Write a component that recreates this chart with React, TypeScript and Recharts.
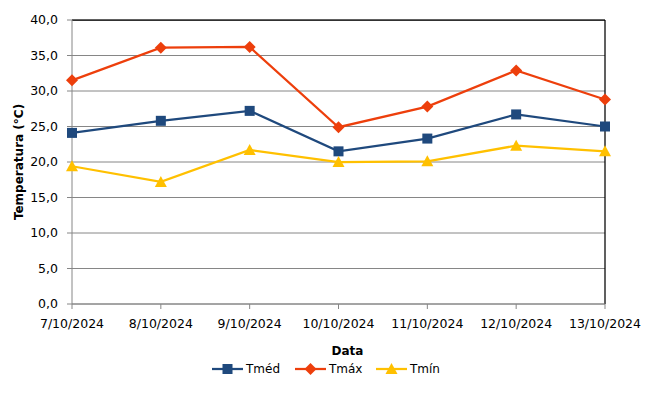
import { CartesianGrid, Legend, Line, LineChart, ReferenceLine, XAxis, YAxis } from 'recharts'

const dates = ['7/10/2024', '8/10/2024', '9/10/2024', '10/10/2024', '11/10/2024', '12/10/2024', '13/10/2024']
const tMed = [24.1, 25.8, 27.2, 21.5, 23.3, 26.7, 25.0]
const tMax = [31.5, 36.1, 36.2, 24.9, 27.8, 32.9, 28.8]
const tMin = [19.4, 17.2, 21.7, 20.0, 20.1, 22.3, 21.5]
const yTicks = [0, 5, 10, 15, 20, 25, 30, 35, 40]

const COLORS = { med: '#1F497D', max: '#ED3F0C', min: '#FFC000' }
const FONT = '"DejaVu Sans", Verdana, sans-serif'

const data = dates.map((d, i) => ({ date: d, med: tMed[i], max: tMax[i], min: tMin[i] }))

const fmt = (v: number) => v.toFixed(1).replace('.', ',')

function Square({ cx, cy, color }: any) {
  if (cx == null || cy == null) return null
  return <rect x={cx - 5} y={cy - 5} width={10} height={10} fill={color} />
}

function Diamond({ cx, cy, color }: any) {
  if (cx == null || cy == null) return null
  return <polygon points={`${cx},${cy - 6} ${cx + 6},${cy} ${cx},${cy + 6} ${cx - 6},${cy}`} fill={color} />
}

function Triangle({ cx, cy, color }: any) {
  if (cx == null || cy == null) return null
  return <polygon points={`${cx},${cy - 6} ${cx + 6},${cy + 5} ${cx - 6},${cy + 5}`} fill={color} />
}

const legendItems = [
  { name: 'Tméd', color: COLORS.med, Marker: Square, width: 83 },
  { name: 'Tmáx', color: COLORS.max, Marker: Diamond, width: 81 },
  { name: 'Tmín', color: COLORS.min, Marker: Triangle, width: 70 },
]

function LegendContent() {
  return (
    <div style={{ display: 'flex', alignItems: 'center', height: 20, paddingLeft: 212, fontFamily: FONT, fontSize: 12 }}>
      {legendItems.map(({ name, color, Marker, width }) => (
        <div key={name} style={{ display: 'flex', alignItems: 'center', width }}>
          <svg width={31} height={14}>
            <line x1={0} y1={7} x2={31} y2={7} stroke={color} strokeWidth={2.25} />
            <Marker cx={15.5} cy={7} color={color} />
          </svg>
          <span style={{ marginLeft: 3, color: '#000' }}>{name}</span>
        </div>
      ))}
    </div>
  )
}

export default function App() {
  return (
    <div style={{ position: 'absolute', left: 0, top: 0, background: '#fff' }}>
      <LineChart
        width={670}
        height={403}
        data={data}
        margin={{ top: 20, right: 65, bottom: 24, left: 0 }}
        style={{ fontFamily: FONT }}
      >
        <CartesianGrid horizontal vertical={false} stroke="#868686" strokeWidth={1} />
        <XAxis
          dataKey="date"
          interval={0}
          height={55}
          tickSize={5}
          tickMargin={10}
          stroke="#868686"
          tick={{ fill: '#000', fontSize: 12.5 }}
          label={{
            content: ({ viewBox }: any) => (
              <text
                x={viewBox.x + viewBox.width / 2 + 9}
                y={351}
                textAnchor="middle"
                dominantBaseline="central"
                fontWeight="bold"
                fontSize={12}
                fill="#000"
              >
                Data
              </text>
            ),
          }}
        />
        <YAxis
          width={72}
          domain={[0, 40]}
          ticks={yTicks}
          tickFormatter={fmt}
          tickSize={5}
          tickMargin={9}
          stroke="#868686"
          tick={{ fill: '#000', fontSize: 12.5 }}
          label={{
            content: ({ viewBox }: any) => {
              const cy = viewBox.y + viewBox.height / 2
              return (
                <text
                  x={19}
                  y={cy}
                  transform={`rotate(-90 19 ${cy})`}
                  textAnchor="middle"
                  dominantBaseline="central"
                  fontWeight="bold"
                  fontSize={12}
                  fill="#000"
                >
                  Temperatura (°C)
                </text>
              )
            },
          }}
        />
        <ReferenceLine y={40} stroke="#000" strokeWidth={1.25} />
        <ReferenceLine x="13/10/2024" stroke="#000" strokeWidth={1.25} />
        <Legend verticalAlign="bottom" wrapperStyle={{ left: 0, width: 670 }} content={<LegendContent />} />
        <Line
          dataKey="med"
          name="Tméd"
          stroke={COLORS.med}
          strokeWidth={2.25}
          dot={(p: any) => <Square key={p.index} {...p} color={COLORS.med} />}
          activeDot={false}
          isAnimationActive={false}
        />
        <Line
          dataKey="max"
          name="Tmáx"
          stroke={COLORS.max}
          strokeWidth={2.25}
          dot={(p: any) => <Diamond key={p.index} {...p} color={COLORS.max} />}
          activeDot={false}
          isAnimationActive={false}
        />
        <Line
          dataKey="min"
          name="Tmín"
          stroke={COLORS.min}
          strokeWidth={2.25}
          dot={(p: any) => <Triangle key={p.index} {...p} color={COLORS.min} />}
          activeDot={false}
          isAnimationActive={false}
        />
      </LineChart>
    </div>
  )
}
